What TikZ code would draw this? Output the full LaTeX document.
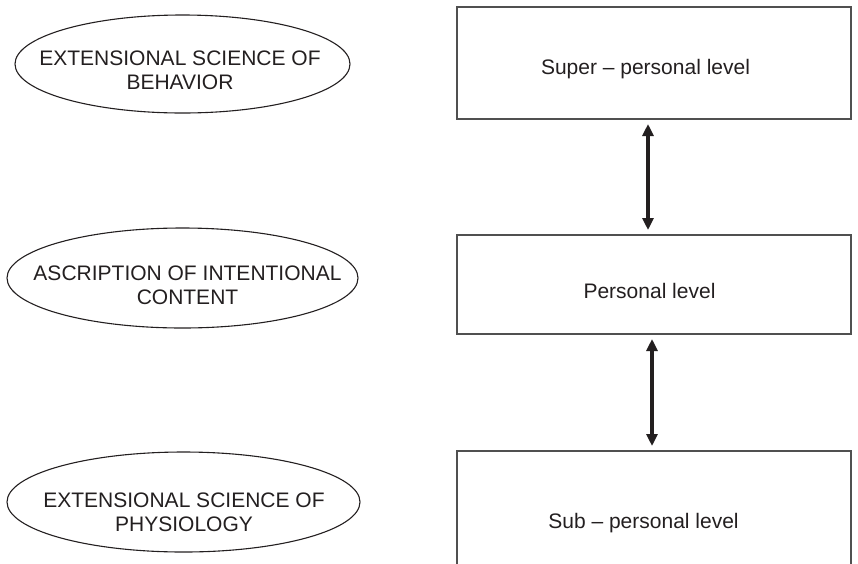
\documentclass[tikz,border=0pt]{standalone}
\usepackage{fontspec}
\setmainfont{Liberation Sans}
\usetikzlibrary{arrows.meta,shapes.geometric}
\definecolor{ink}{HTML}{231F20}
\definecolor{frame}{HTML}{505050}
\begin{document}
\begin{tikzpicture}[x=1pt,y=-1pt,
  oval/.style={draw=ink,line width=1.1pt,ellipse,inner sep=0pt},
  levelbox/.style={draw=frame,line width=2pt,rectangle,inner sep=0pt,
    minimum width=394pt},
  lbl/.style={text=ink,font=\fontsize{21}{24}\selectfont,align=center,inner sep=0pt},
  boxtxt/.style={text=ink,font=\fontsize{21}{24}\selectfont,inner sep=0pt,anchor=base},
  dbl/.style={draw=ink,line width=4pt,
    {Triangle[width=11pt,length=12pt]}-{Triangle[width=11pt,length=12pt]},
    shorten <=4pt,shorten >=4pt}]
\useasboundingbox (0,0) rectangle (858,563);

% levels on the right
\node[levelbox,minimum height=112pt] (sup) at (654,63) {};
\node[levelbox,minimum height=99pt] (per) at (654,284.5) {};
\node[levelbox,minimum height=160pt] (sub) at (654,531) {};
\node[boxtxt] at (645.5,74) {Super – personal level};
\node[boxtxt] at (649.5,298) {Personal level};
\node[boxtxt] at (643.5,528) {Sub – personal level};

% connectors between levels
\draw[dbl] ([xshift=-6pt]sup.south) -- ([xshift=-6pt]per.north);
\draw[dbl] ([xshift=-2pt]per.south) -- ([xshift=-2pt]sub.north);

% descriptions on the left
\node[oval,minimum width=335pt,minimum height=98pt] (e1) at (182.5,64) {};
\node[lbl] at (180,70) {EXTENSIONAL SCIENCE OF\\BEHAVIOR};
\node[oval,minimum width=351pt,minimum height=100pt] (e2) at (182.5,278) {};
\node[lbl] at (187.5,285.5) {ASCRIPTION OF INTENTIONAL\\CONTENT};
\node[oval,minimum width=353pt,minimum height=100pt] (e3) at (183.5,502) {};
\node[lbl] at (184,512) {EXTENSIONAL SCIENCE OF\\PHYSIOLOGY};
\end{tikzpicture}
\end{document}
